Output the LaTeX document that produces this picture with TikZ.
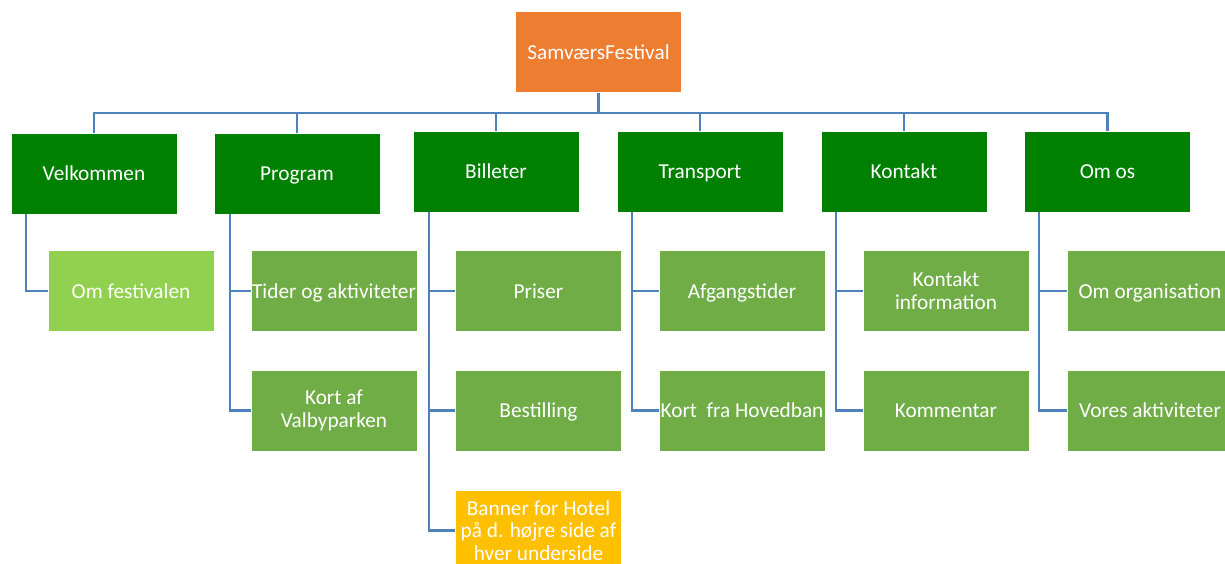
\documentclass[tikz,border=0pt]{standalone}
\usepackage{fontspec}
\setmainfont{Carlito}
\definecolor{orangeC}{RGB}{237,125,49}
\definecolor{darkG}{RGB}{0,128,0}
\definecolor{midG}{RGB}{112,173,71}
\definecolor{lightG}{RGB}{146,208,80}
\definecolor{yellowC}{RGB}{255,192,0}
\definecolor{connC}{RGB}{79,129,189}
\begin{document}
\begin{tikzpicture}[x=1pt,y=-1pt,
  box/.style={rectangle,draw=white,line width=0.6pt,minimum width=166pt,minimum height=81pt,inner sep=0pt,text=white,align=center,font=\fontsize{21.3}{22.8}\selectfont},
  one/.style={text depth=0pt},
  topbox/.style={box,one,fill=orangeC},
  lvlone/.style={box,one,fill=darkG},
  lvltwo/.style={box,fill=midG},
  conn/.style={draw=connC,line width=2.2pt}]
\useasboundingbox (0,0) rectangle (1225,564);
\clip (0,0) rectangle (1225,564);
\node[topbox] (top) at (598.5,52) {SamværsFestival};
% level one
\node[lvlone] (velk) at (94,173.5) {Velkommen};
\node[lvlone] (prog) at (297,173.5) {Program};
\node[lvlone] (bill) at (496,171.5) {Billeter};
\node[lvlone] (trans) at (700,171.5) {Transport};
\node[lvlone] (kont) at (904,171.5) {Kontakt};
\node[lvlone] (omos) at (1107.5,171.5) {Om os};
% level two
\node[box,one,fill=lightG] (omfest) at (131,291) {Om festivalen};
\node[lvltwo,one] (tider) at (334,291) {Tider og aktiviteter};
\node[lvltwo] (kortv) at (334,410.5) {Kort af\\Valbyparken};
\node[lvltwo,one] (priser) at (538.5,291) {Priser};
\node[lvltwo,one] (best) at (538.5,410.5) {Bestilling};
\node[box,fill=yellowC] (banner) at (538.5,530.5) {Banner for Hotel\\på d. højre side af\\hver underside};
\node[lvltwo,one] (afg) at (742,291) {Afgangstider};
\node[lvltwo,one] (korth) at (742,410.5) {Kort\ \ fra Hovedban};
\node[lvltwo] (kinfo) at (946,291) {Kontakt\\information};
\node[lvltwo,one] (komm) at (946,410.5) {Kommentar};
\node[lvltwo,one] (omorg) at (1150,291) {Om organisation};
\node[lvltwo,one] (vores) at (1150,410.5) {Vores aktiviteter};
% bus
\coordinate (bus) at (598.5,113);
\draw[conn] (top.south) -- (bus);
\draw[conn] (velk.north) -- (velk.north |- bus) -- (omos.north |- bus) -- (omos.north);
\foreach \n in {prog,bill,trans,kont} \draw[conn] (\n.north) -- (\n.north |- bus);
% children
\draw[conn] ([xshift=15pt]velk.south west) |- (omfest.west);
\draw[conn] ([xshift=16pt]prog.south west) |- (kortv.west);
\draw[conn] ([xshift=16pt]prog.south west |- tider.west) -- (tider.west);
\draw[conn] ([xshift=16pt]bill.south west) |- (banner.west);
\draw[conn] ([xshift=16pt]bill.south west |- priser.west) -- (priser.west);
\draw[conn] ([xshift=16pt]bill.south west |- best.west) -- (best.west);
\draw[conn] ([xshift=15pt]trans.south west) |- (korth.west);
\draw[conn] ([xshift=15pt]trans.south west |- afg.west) -- (afg.west);
\draw[conn] ([xshift=15pt]kont.south west) |- (komm.west);
\draw[conn] ([xshift=15pt]kont.south west |- kinfo.west) -- (kinfo.west);
\draw[conn] ([xshift=15pt]omos.south west) |- (vores.west);
\draw[conn] ([xshift=15pt]omos.south west |- omorg.west) -- (omorg.west);
\end{tikzpicture}
\end{document}
